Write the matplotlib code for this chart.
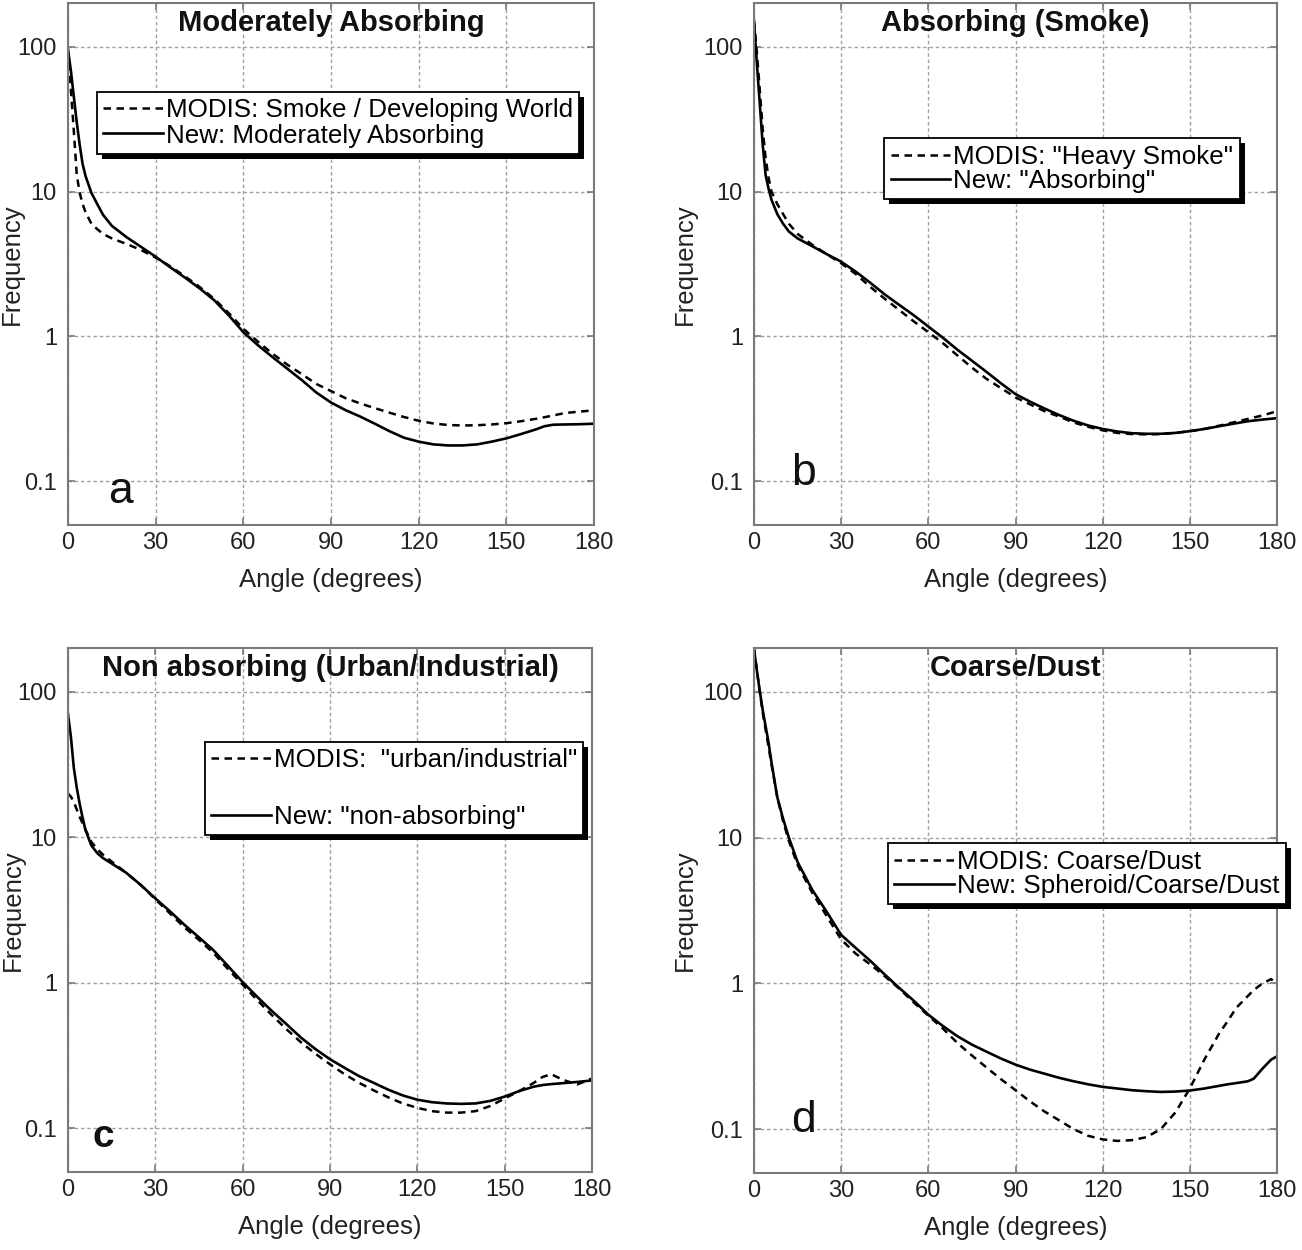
import matplotlib
matplotlib.use("Agg")
import matplotlib.pyplot as plt
from matplotlib.patches import Rectangle
from matplotlib.transforms import IdentityTransform

plt.rcParams['font.family'] = ['Liberation Sans', 'DejaVu Sans']

# ---------------- data ----------------
angles = [0, 1, 2, 3, 4, 5, 6, 8, 10, 12, 15, 20, 25, 30, 35, 40, 45, 50, 55, 60,
          65, 70, 75, 80, 85, 90, 95, 100, 105, 110, 115, 120, 125, 130, 135, 140,
          145, 150, 155, 160, 163, 166, 170, 175, 180]

new_a = [95, 68, 45, 30, 21, 15.5, 12.8, 9.8, 8.2, 6.9, 5.8, 4.85, 4.15, 3.55, 3.0, 2.55,
         2.15, 1.78, 1.4, 1.07, 0.87, 0.72, 0.6, 0.5, 0.41, 0.35, 0.31, 0.28, 0.25,
         0.222, 0.2, 0.188, 0.18, 0.177, 0.177, 0.18, 0.188, 0.198, 0.212, 0.228, 0.24,
         0.246, 0.247, 0.248, 0.25]
modis_a = [95, 50, 26, 13, 9.8, 8.2, 7.2, 6.0, 5.5, 5.1, 4.75, 4.35, 3.95, 3.5, 3.05, 2.6,
           2.2, 1.82, 1.45, 1.13, 0.92, 0.76, 0.64, 0.55, 0.47, 0.42, 0.375, 0.345, 0.32,
           0.298, 0.278, 0.262, 0.251, 0.245, 0.243, 0.244, 0.247, 0.252, 0.26, 0.27,
           0.277, 0.285, 0.296, 0.303, 0.309]

new_b = [150, 76, 40, 21, 13, 10.5, 8.8, 7.0, 6.0, 5.3, 4.75, 4.2, 3.7, 3.28, 2.8, 2.35,
         1.95, 1.65, 1.4, 1.17, 0.98, 0.81, 0.68, 0.57, 0.475, 0.40, 0.355, 0.318, 0.287,
         0.262, 0.243, 0.23, 0.221, 0.215, 0.213, 0.213, 0.216, 0.222, 0.23, 0.24, 0.246,
         0.252, 0.26, 0.267, 0.273]
modis_b = [150, 90, 50, 27, 17, 12.5, 10, 8.2, 7.0, 6.0, 5.1, 4.3, 3.7, 3.2, 2.7, 2.2,
           1.82, 1.52, 1.27, 1.07, 0.9, 0.74, 0.61, 0.51, 0.44, 0.38, 0.34, 0.305, 0.28,
           0.255, 0.238, 0.225, 0.216, 0.212, 0.211, 0.212, 0.216, 0.222, 0.23, 0.242,
           0.25, 0.258, 0.27, 0.285, 0.305]

new_c = [70, 49, 30, 22, 17, 13.7, 11.2, 8.8, 7.8, 7.2, 6.6, 5.7, 4.7, 3.8, 3.1, 2.5,
         2.05, 1.67, 1.3, 1.01, 0.8, 0.64, 0.52, 0.42, 0.35, 0.298, 0.26, 0.228, 0.205,
         0.184, 0.168, 0.157, 0.151, 0.148, 0.147, 0.148, 0.154, 0.165, 0.18, 0.193,
         0.198, 0.201, 0.204, 0.208, 0.213]
modis_c = [20, 19, 17.5, 15.5, 13.8, 12.5, 11.3, 9.3, 8.3, 7.6, 6.8, 5.7, 4.7, 3.75, 3.0,
           2.4, 1.97, 1.6, 1.24, 0.97, 0.76, 0.6, 0.48, 0.39, 0.325, 0.275, 0.235, 0.205,
           0.182, 0.163, 0.148, 0.138, 0.131, 0.128, 0.128, 0.131, 0.142, 0.16, 0.18,
           0.205, 0.225, 0.235, 0.215, 0.2, 0.22]

angles_d = [0, 1, 2, 3, 4, 5, 6, 8, 10, 12, 15, 20, 25, 30, 35, 40, 45, 50, 55, 60,
            65, 70, 75, 80, 85, 90, 95, 100, 105, 110, 115, 120, 125, 130, 135, 140,
            145, 150, 155, 160, 163, 166, 170, 172, 175, 178, 180]
new_d = [195, 140, 101, 75, 58, 45, 33, 19, 13.5, 10, 6.8, 4.4, 3.1, 2.15, 1.75, 1.43,
         1.15, 0.93, 0.76, 0.61, 0.51, 0.434, 0.38, 0.34, 0.305, 0.277, 0.256, 0.24,
         0.225, 0.213, 0.203, 0.195, 0.19, 0.185, 0.182, 0.18, 0.181, 0.184, 0.19, 0.198,
         0.203, 0.207, 0.213, 0.222, 0.26, 0.3, 0.316]
modis_d = [200, 140, 100, 72, 55, 42, 32, 19, 13, 9.5, 6.5, 4.2, 2.9, 2.0, 1.6, 1.35,
           1.12, 0.92, 0.74, 0.6, 0.49, 0.39, 0.32, 0.265, 0.22, 0.185, 0.155, 0.132,
           0.115, 0.1, 0.09, 0.085, 0.083, 0.084, 0.088, 0.1, 0.13, 0.19, 0.3, 0.45,
           0.55, 0.68, 0.82, 0.9, 1.0, 1.07, 0.98]

titles = ["Moderately Absorbing", "Absorbing (Smoke)",
          "Non absorbing (Urban/Industrial)", "Coarse/Dust"]
modis_labels = ["MODIS: Smoke / Developing World", 'MODIS: "Heavy Smoke"',
                'MODIS:  "urban/industrial"', "MODIS: Coarse/Dust"]
new_labels = ["New: Moderately Absorbing", 'New: "Absorbing"',
              'New: "non-absorbing"', "New: Spheroid/Coarse/Dust"]
letters = ["a", "b", "c", "d"]
xticks = [0, 30, 60, 90, 120, 150, 180]
yticks = [0.1, 1, 10, 100]
ytick_labels = ["0.1", "1", "10", "100"]

# ---------------- layout ----------------
W, H = 1302, 1250
fig = plt.figure(figsize=(W / 100, H / 100), dpi=100)

def px_axes(x0, x1, y0, y1):
    return fig.add_axes([x0 / W, 1 - y1 / H, (x1 - x0) / W, (y1 - y0) / H])

axes = [px_axes(68, 594, 3, 525), px_axes(754, 1277, 3, 525),
        px_axes(68, 592, 648, 1172), px_axes(754, 1277, 648, 1173)]

series = [(angles, modis_a, new_a), (angles, modis_b, new_b),
          (angles, modis_c, new_c), (angles_d, modis_d, new_d)]

legend_anchor = [(0.055, 0.83), (0.249, 0.741), (0.261, 0.821), (0.256, 0.628)]
legend_spacing = [0.05, 0.0, 1.25, 0.0]
letter_pos = [(0.10, 0.065), (0.094, 0.098), (0.068, 0.066), (0.094, 0.10)]
letter_weight = ["normal", "normal", "bold", "normal"]
letter_size = [32, 32, 28, 32]
ylabel_x = [-0.083, -0.109, -0.083, -0.109]

spine_col = "#7a7a7a"
grid_col = "#a0a0a0"
text_col = "#222222"

legends = []
for i, ax in enumerate(axes):
    ang, m, n = series[i]
    l1, = ax.plot(ang, m, color="black", lw=1.8, ls=(0, (3.0, 2.2)),
                  label=modis_labels[i])
    l2, = ax.plot(ang, n, color="black", lw=1.9, ls="-", label=new_labels[i])
    ax.set_yscale("log")
    ax.set_xlim(0, 180)
    ax.set_ylim(0.05, 200)
    ax.set_xticks(xticks)
    ax.set_xticklabels([str(t) for t in xticks])
    ax.set_yticks(yticks)
    ax.set_yticklabels(ytick_labels)
    ax.yaxis.set_minor_locator(matplotlib.ticker.NullLocator())
    ax.tick_params(axis="both", which="major", direction="in", length=5, width=1.2,
                   color=spine_col, labelsize=17, top=True, right=True,
                   labelcolor=text_col)
    ax.tick_params(axis="x", pad=5)
    ax.tick_params(axis="y", pad=8)
    ax.grid(True, which="major", color=grid_col, ls=(0, (2.5, 2.0)), lw=1.0)
    for s in ax.spines.values():
        s.set_color(spine_col)
        s.set_linewidth(1.5)
    ax.set_xlabel("Angle (degrees)", fontsize=18.5, color=text_col, labelpad=10)
    ax.set_ylabel("Frequency", fontsize=18.5, color=text_col)
    ax.yaxis.set_label_coords(ylabel_x[i], 0.5)
    ax.text(0.5, 0.962, titles[i], transform=ax.transAxes, ha="center", va="center",
            fontsize=21, fontweight="bold", color="#111111")
    ax.text(letter_pos[i][0], letter_pos[i][1], letters[i], transform=ax.transAxes,
            ha="center", va="center", fontsize=letter_size[i],
            fontweight=letter_weight[i], color="#111111")
    leg = ax.legend(handles=[l1, l2], loc="upper left", bbox_to_anchor=legend_anchor[i],
                    fontsize=18.7, frameon=True, fancybox=False, framealpha=1,
                    edgecolor="black", borderpad=0.25, handlelength=2.3,
                    handletextpad=0.1, labelspacing=legend_spacing[i],
                    borderaxespad=0.0)
    leg.get_frame().set_linewidth(1.3)
    leg.set_zorder(6)
    legends.append((ax, leg))

fig.canvas.draw()
r = fig.canvas.get_renderer()
for ax, leg in legends:
    bb = leg.get_frame().get_window_extent(r)
    d = 5
    sh = Rectangle((bb.x0 + d, bb.y0 - d), bb.width, bb.height,
                   transform=IdentityTransform(), facecolor="black",
                   edgecolor="none", zorder=5.5, clip_on=False)
    ax.add_artist(sh)

fig.savefig("out.png", dpi=100)
